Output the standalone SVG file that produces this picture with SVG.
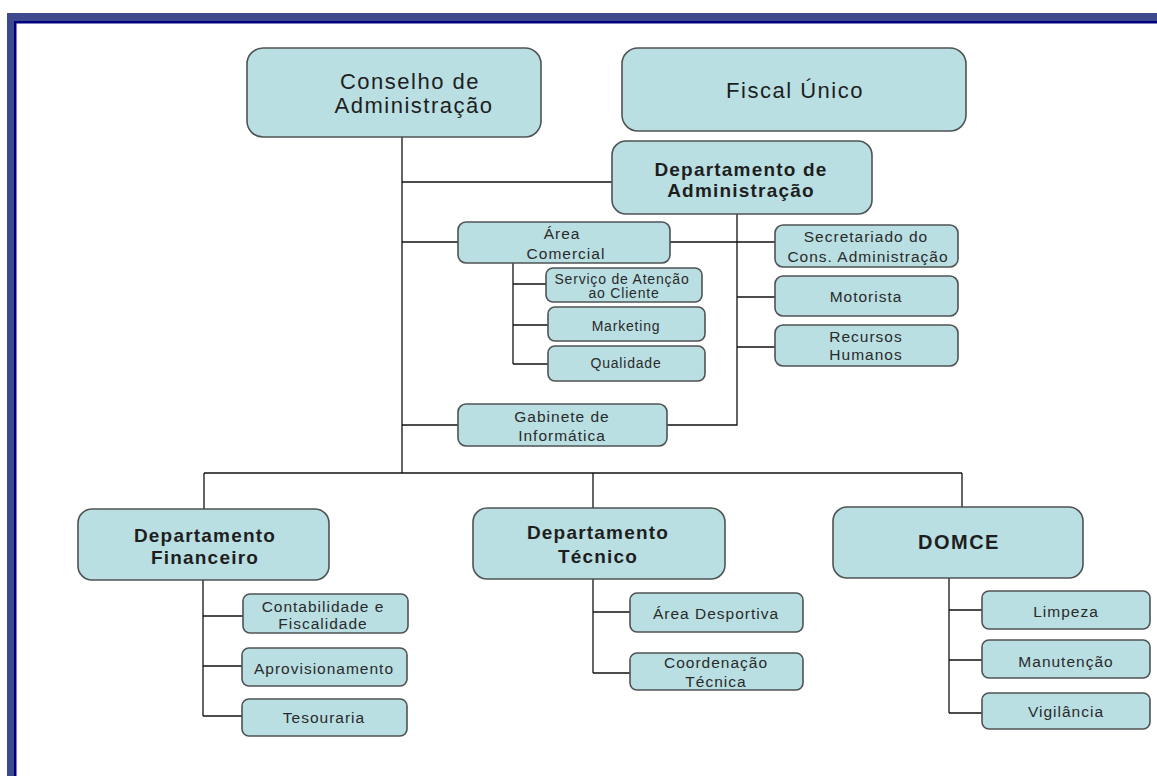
<svg xmlns="http://www.w3.org/2000/svg" width="1157" height="776" viewBox="0 0 1157 776">
  <style>
    .box { fill: #b9dfe3; stroke: #4f5353; stroke-width: 1.6; }
    .ln { stroke: #111; stroke-width: 1.3; fill: none; }
    text { font-family: "Liberation Sans", Arial, sans-serif; fill: #1e1e1e; text-anchor: middle; }
    .big { font-size: 22px; letter-spacing: 1.5px; }
    .bold { font-size: 19px; font-weight: bold; letter-spacing: 1.2px; }
    .sm { font-size: 15.5px; letter-spacing: 1px; fill: #2a2a2a; }
    .xs { font-size: 14px; letter-spacing: 0.8px; fill: #2a2a2a; }
  </style>

  <rect width="1157" height="776" fill="#ffffff"/>

  <!-- frame along the top and left edges -->
  <g id="frame">
    <rect x="7" y="13" width="1150" height="9" fill="#3e4a8e"/>
    <rect x="7" y="13" width="8" height="763" fill="#3e4a8e"/>
    <rect x="15" y="21" width="1142" height="2.5" fill="#00007e"/>
    <rect x="14" y="21" width="2.5" height="755" fill="#00007e"/>
  </g>

  <g id="connectors">
    <!-- trunk from the board -->
    <path class="ln" d="M402 137 V473"/>
    <path class="ln" d="M402 182 H612"/>
    <path class="ln" d="M402 242 H458"/>
    <path class="ln" d="M402 425 H458"/>
    <!-- administration branch -->
    <path class="ln" d="M737 214 V425 H667"/>
    <path class="ln" d="M670 242 H737"/>
    <path class="ln" d="M737 242 H775"/>
    <path class="ln" d="M737 297 H775"/>
    <path class="ln" d="M737 347 H775"/>
    <!-- commercial area -->
    <path class="ln" d="M513 263 V364"/>
    <path class="ln" d="M513 284 H546"/>
    <path class="ln" d="M513 325 H548"/>
    <path class="ln" d="M513 364 H548"/>
    <!-- bottom bus -->
    <path class="ln" d="M204 473 H962"/>
    <path class="ln" d="M204 473 V509"/>
    <path class="ln" d="M593 473 V508"/>
    <path class="ln" d="M962 473 V507"/>
    <!-- finance -->
    <path class="ln" d="M203 580 V716"/>
    <path class="ln" d="M203 616 H243"/>
    <path class="ln" d="M203 666 H242"/>
    <path class="ln" d="M203 716 H242"/>
    <!-- technical -->
    <path class="ln" d="M593 579 V673"/>
    <path class="ln" d="M593 612 H630"/>
    <path class="ln" d="M593 673 H630"/>
    <!-- DOMCE -->
    <path class="ln" d="M949 578 V713"/>
    <path class="ln" d="M949 610 H982"/>
    <path class="ln" d="M949 660 H982"/>
    <path class="ln" d="M949 713 H982"/>
  </g>

  <g id="conselho">
    <rect class="box" x="247" y="48" width="294" height="89" rx="16"/>
    <text class="big" x="410" y="89">Conselho de</text>
    <text class="big" x="414" y="113">Administração</text>
  </g>

  <g id="fiscal">
    <rect class="box" x="622" y="48" width="344" height="83" rx="16"/>
    <text class="big" x="795" y="98">Fiscal Único</text>
  </g>

  <g id="dep-admin">
    <rect class="box" x="612" y="141" width="260" height="73" rx="14"/>
    <text class="bold" x="741" y="176">Departamento de</text>
    <text class="bold" x="741" y="197">Administração</text>
  </g>

  <g id="area-comercial">
    <rect class="box" x="458" y="222" width="212" height="41" rx="8"/>
    <text class="sm" x="562" y="239">Área</text>
    <text class="sm" x="566" y="259">Comercial</text>
  </g>

  <g id="sac">
    <rect class="box" x="546" y="268" width="156" height="34" rx="7"/>
    <text class="xs" x="622" y="284">Serviço de Atenção</text>
    <text class="xs" x="624" y="298">ao Cliente</text>
  </g>

  <g id="marketing">
    <rect class="box" x="548" y="307" width="157" height="34" rx="7"/>
    <text class="xs" x="626" y="331">Marketing</text>
  </g>

  <g id="qualidade">
    <rect class="box" x="548" y="346" width="157" height="35" rx="7"/>
    <text class="xs" x="626" y="368">Qualidade</text>
  </g>

  <g id="gabinete">
    <rect class="box" x="458" y="404" width="209" height="42" rx="8"/>
    <text class="sm" x="562" y="422">Gabinete de</text>
    <text class="sm" x="562" y="441">Informática</text>
  </g>

  <g id="secretariado">
    <rect class="box" x="775" y="225" width="183" height="42" rx="8"/>
    <text class="sm" x="866" y="242">Secretariado do</text>
    <text class="sm" x="868" y="262">Cons. Administração</text>
  </g>

  <g id="motorista">
    <rect class="box" x="775" y="276" width="183" height="40" rx="8"/>
    <text class="sm" x="866" y="302">Motorista</text>
  </g>

  <g id="rh">
    <rect class="box" x="775" y="325" width="183" height="41" rx="8"/>
    <text class="sm" x="866" y="342">Recursos</text>
    <text class="sm" x="866" y="360">Humanos</text>
  </g>

  <g id="dep-financeiro">
    <rect class="box" x="78" y="509" width="251" height="71" rx="14"/>
    <text class="bold" x="205" y="542">Departamento</text>
    <text class="bold" x="205" y="564">Financeiro</text>
  </g>

  <g id="contabilidade">
    <rect class="box" x="243" y="594" width="165" height="39" rx="7"/>
    <text class="sm" x="323" y="612">Contabilidade e</text>
    <text class="sm" x="323" y="629">Fiscalidade</text>
  </g>

  <g id="aprovisionamento">
    <rect class="box" x="242" y="648" width="165" height="38" rx="7"/>
    <text class="sm" x="324" y="674">Aprovisionamento</text>
  </g>

  <g id="tesouraria">
    <rect class="box" x="242" y="699" width="165" height="37" rx="7"/>
    <text class="sm" x="324" y="723">Tesouraria</text>
  </g>

  <g id="dep-tecnico">
    <rect class="box" x="473" y="508" width="252" height="71" rx="14"/>
    <text class="bold" x="598" y="539">Departamento</text>
    <text class="bold" x="598" y="563">Técnico</text>
  </g>

  <g id="area-desportiva">
    <rect class="box" x="630" y="593" width="173" height="39" rx="7"/>
    <text class="sm" x="716" y="619">Área Desportiva</text>
  </g>

  <g id="coordenacao">
    <rect class="box" x="630" y="653" width="173" height="37" rx="7"/>
    <text class="sm" x="716" y="668">Coordenação</text>
    <text class="sm" x="716" y="687">Técnica</text>
  </g>

  <g id="domce">
    <rect class="box" x="833" y="507" width="250" height="71" rx="14"/>
    <text class="bold" x="959" y="549" style="font-size:20px;letter-spacing:1.5px">DOMCE</text>
  </g>

  <g id="limpeza">
    <rect class="box" x="982" y="591" width="168" height="38" rx="7"/>
    <text class="sm" x="1066" y="617">Limpeza</text>
  </g>

  <g id="manutencao">
    <rect class="box" x="982" y="640" width="168" height="38" rx="7"/>
    <text class="sm" x="1066" y="667">Manutenção</text>
  </g>

  <g id="vigilancia">
    <rect class="box" x="982" y="693" width="168" height="36" rx="7"/>
    <text class="sm" x="1066" y="717">Vigilância</text>
  </g>
</svg>
